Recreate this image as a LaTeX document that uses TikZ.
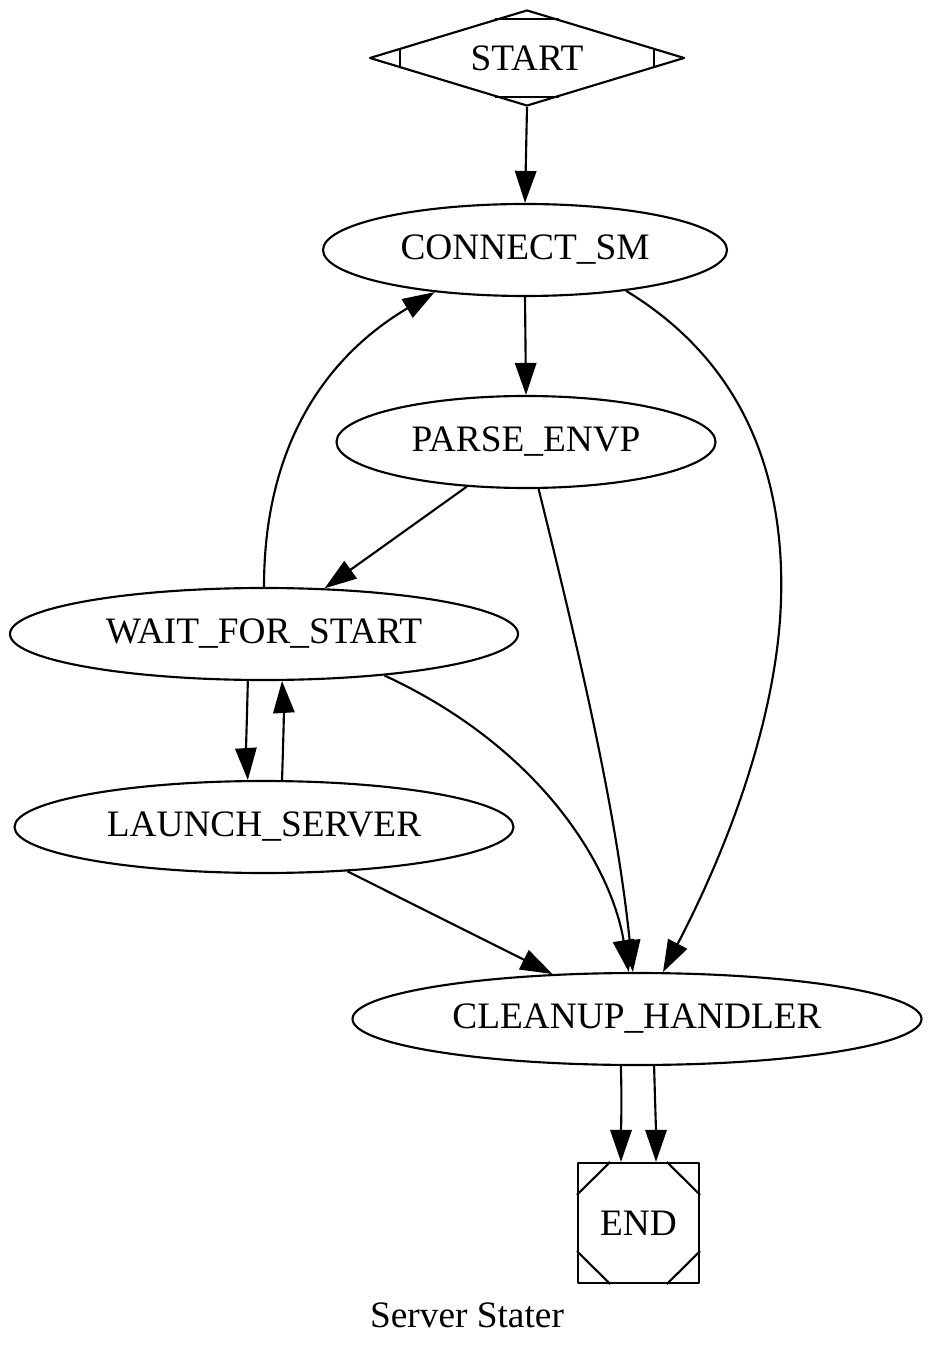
\documentclass[tikz,border=0pt]{standalone}
\usepackage{fontspec}
\setmainfont{Liberation Serif}
\usetikzlibrary{shapes.geometric,arrows.meta,calc}
\begin{document}
\begin{tikzpicture}[x=0.375pt,y=-0.375pt,line width=0.8pt,line join=round,
  font=\fontsize{14}{16}\selectfont,>={Triangle[length=12pt,width=8pt]},
  state/.style={draw,ellipse,inner sep=0pt,minimum height=34.5pt}]
\def\u{0.375pt}
\useasboundingbox (0,0) rectangle (934,1360);
% start and stop
\node[draw,diamond,aspect=3.3,inner sep=0pt,minimum width=315*\u,minimum height=96*\u] (start) at (527,58) {START};
\foreach \c/\p/\q in {north/west/east,south/west/east,west/north/south,east/north/south}
  \draw ($(start.\c)!0.2!(start.\p)$) -- ($(start.\c)!0.2!(start.\q)$);
\node[draw,rectangle,inner sep=0pt,minimum width=121*\u,minimum height=120*\u] (stop) at (638.5,1223) {END};
\foreach \c/\p/\q in {north west/north east/south west,north east/north west/south east,south west/south east/north west,south east/south west/north east}
  \draw ($(stop.\c)!0.27!(stop.\p)$) -- ($(stop.\c)!0.27!(stop.\q)$);
% states
\foreach \n/\x/\y/\w/\t in {connect/525/250/404/CONNECT\_SM,parse/526/442/379/PARSE\_ENVP,wait/264/634/508/WAIT\_FOR\_START,launch/264/827/499/LAUNCH\_SERVER,cleanup/637/1019/569/CLEANUP\_HANDLER}
  \node[state,minimum width=\w*\u] (\n) at (\x,\y) {\t};
\node (title) at (467,1315) {Server Stater};
% transitions
\draw[->] (start.south) -- (connect.north);
\draw[->] (connect.south) -- (parse.north);
\draw[->] (connect.338) .. controls (740,360) and (785,470) .. (781,600) .. controls (778,700) and (740,824) .. (cleanup.61);
\draw[->] (parse.217.6) -- (wait.37.4);
\draw[->] (parse.285) .. controls (578,648) and (616,808) .. (cleanup.95);
\draw[->] (wait.90) .. controls (264,438) and (332,353) .. (connect.205.6);
\draw[->] (wait.251.9) .. controls (247,715) and (246,750) .. (launch.109.3);
\draw[->] (launch.69.7) .. controls (283,750) and (284,715) .. (wait.291.4);
\draw[->] (wait.341) .. controls (545,750) and (612,870) .. (cleanup.100);
\draw[->] (launch.332.4) -- (cleanup.152.7);
\draw[->] (cleanup.251.9) .. controls (622,1100) and (621,1130) .. (stop.106);
\draw[->] (cleanup.290.3) .. controls (655,1100) and (656,1130) .. (stop.74);
\end{tikzpicture}
\end{document}
